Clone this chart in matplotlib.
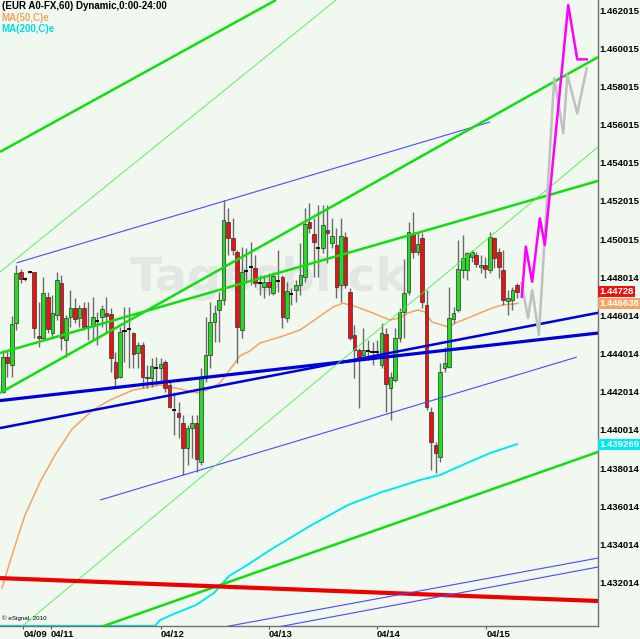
import matplotlib
matplotlib.use("Agg")
import matplotlib.pyplot as plt
import matplotlib.transforms as mtransforms
import numpy as np

# EUR A0-FX hourly candles, 04/09 .. 04/15
opens = [1.44201, 1.44383, 1.44341, 1.44561, 1.44829, 1.44792, 1.44829, 1.44829, 1.44493, 1.44483,
         1.44698, 1.44511, 1.44603, 1.44771, 1.44472, 1.44593, 1.44640, 1.44588, 1.44640, 1.44541,
         1.44546, 1.44574, 1.44593, 1.44614, 1.44609, 1.44359, 1.44280, 1.44520, 1.44530, 1.44509,
         1.44403, 1.44446, 1.44280, 1.44275, 1.44327, 1.44324, 1.44359, 1.44237, 1.44106, 1.44089,
         1.44036, 1.43905, 1.44010, 1.44036, 1.43835, 1.44272, 1.44394, 1.44568, 1.44630, 1.44682,
         1.45089, 1.45005, 1.44932, 1.44525, 1.44836, 1.44853, 1.44851, 1.44770, 1.44752, 1.44778,
         1.44717, 1.44783, 1.44801, 1.44586, 1.44715, 1.44734, 1.44761, 1.44804, 1.45089, 1.45028,
         1.44957, 1.44953, 1.45049, 1.44979, 1.44970, 1.44761, 1.45014, 1.44725, 1.44499, 1.44420,
         1.44394, 1.44415, 1.44411, 1.44411, 1.44341, 1.44502, 1.44219, 1.44263, 1.44481, 1.44621,
         1.44725, 1.45026, 1.44935, 1.45005, 1.44656, 1.44097, 1.43922, 1.43861, 1.44324, 1.44332,
         1.44581, 1.44630, 1.44839, 1.44839, 1.44909, 1.44918, 1.44853, 1.44865, 1.44839, 1.45005,
         1.44935, 1.44839, 1.44678, 1.44682, 1.44761]
highs = [1.44420, 1.44416, 1.44598, 1.44865, 1.44844, 1.44802, 1.44834, 1.44830, 1.44673, 1.44803,
         1.44725, 1.44708, 1.44830, 1.44813, 1.44603, 1.44734, 1.44692, 1.44656, 1.44673, 1.44673,
         1.44699, 1.44621, 1.44656, 1.44699, 1.44640, 1.44411, 1.44542, 1.44647, 1.44647, 1.44516,
         1.44463, 1.44463, 1.44341, 1.44377, 1.44385, 1.44377, 1.44368, 1.44254, 1.44202, 1.44149,
         1.44079, 1.44027, 1.44079, 1.44079, 1.44324, 1.44594, 1.44673, 1.44656, 1.44725, 1.45206,
         1.45163, 1.45110, 1.44944, 1.44961, 1.44953, 1.44987, 1.44918, 1.44813, 1.44813, 1.44822,
         1.44830, 1.44944, 1.44813, 1.44778, 1.44743, 1.44787, 1.44979, 1.45163, 1.45189, 1.45112,
         1.45180, 1.45180, 1.45180, 1.45110, 1.45058, 1.45110, 1.45040, 1.44743, 1.44551, 1.44429,
         1.44534, 1.44472, 1.44463, 1.44472, 1.44560, 1.44534, 1.44306, 1.44534, 1.44639, 1.44899,
         1.45092, 1.45145, 1.45040, 1.45032, 1.44734, 1.44123, 1.43940, 1.44350, 1.44437, 1.44752,
         1.44647, 1.44996, 1.45022, 1.44935, 1.44944, 1.44935, 1.44918, 1.44909, 1.45040, 1.45014,
         1.44953, 1.44944, 1.44734, 1.44752, 1.44770]
lows = [1.44195, 1.44280, 1.44279, 1.44525, 1.44771, 1.44782, 1.44823, 1.44483, 1.44437, 1.44472,
        1.44511, 1.44483, 1.44577, 1.44420, 1.44385, 1.44541, 1.44561, 1.44541, 1.44525, 1.44472,
        1.44472, 1.44446, 1.44542, 1.44509, 1.44306, 1.44221, 1.44272, 1.44359, 1.44326, 1.44324,
        1.44326, 1.44219, 1.44221, 1.44228, 1.44237, 1.44254, 1.44202, 1.44115, 1.43975, 1.43957,
        1.43765, 1.43816, 1.43853, 1.43782, 1.43816, 1.44254, 1.44324, 1.44463, 1.44463, 1.44656,
        1.44918, 1.44918, 1.44350, 1.44481, 1.44770, 1.44761, 1.44752, 1.44708, 1.44691, 1.44708,
        1.44708, 1.44725, 1.44534, 1.44568, 1.44656, 1.44673, 1.44708, 1.44778, 1.45032, 1.44804,
        1.44804, 1.44927, 1.44876, 1.44953, 1.44691, 1.44673, 1.44743, 1.44472, 1.44272, 1.44115,
        1.44377, 1.44368, 1.44341, 1.44385, 1.44324, 1.44097, 1.44053, 1.44254, 1.44463, 1.44481,
        1.44708, 1.44900, 1.44918, 1.44639, 1.44106, 1.43791, 1.43775, 1.43835, 1.44305, 1.44324,
        1.44560, 1.44621, 1.44796, 1.44787, 1.44883, 1.44856, 1.44822, 1.44796, 1.44822, 1.44848,
        1.44796, 1.44656, 1.44603, 1.44630, 1.44691]
closes = [1.44385, 1.44352, 1.44556, 1.44823, 1.44792, 1.44792, 1.44829, 1.44535, 1.44483, 1.44719,
          1.44530, 1.44615, 1.44787, 1.44483, 1.44588, 1.44640, 1.44582, 1.44640, 1.44541, 1.44541,
          1.44594, 1.44574, 1.44635, 1.44598, 1.44378, 1.44273, 1.44516, 1.44520, 1.44530, 1.44397,
          1.44446, 1.44280, 1.44273, 1.44338, 1.44327, 1.44345, 1.44219, 1.44123, 1.44106, 1.44071,
          1.43905, 1.44010, 1.44036, 1.43851, 1.44272, 1.44394, 1.44568, 1.44612, 1.44682, 1.45101,
          1.45005, 1.44944, 1.44542, 1.44827, 1.44836, 1.44853, 1.44770, 1.44770, 1.44778, 1.44752,
          1.44808, 1.44783, 1.44594, 1.44731, 1.44715, 1.44761, 1.44813, 1.45079, 1.45058, 1.44987,
          1.44957, 1.45075, 1.45032, 1.45019, 1.44752, 1.45019, 1.44761, 1.44481, 1.44420, 1.44385,
          1.44420, 1.44415, 1.44411, 1.44411, 1.44508, 1.44240, 1.44280, 1.44481, 1.44618, 1.44717,
          1.45040, 1.44935, 1.44974, 1.44673, 1.44123, 1.43940, 1.43879, 1.44306, 1.44353, 1.44586,
          1.44615, 1.44843, 1.44900, 1.44927, 1.44934, 1.44871, 1.44865, 1.44843, 1.45014, 1.44900,
          1.44853, 1.44682, 1.44691, 1.44734, 1.44725]

# moving averages (bar index, price)
ma50_x = [-0.16, 2.06, 4.94, 8.27, 11.6, 15.37, 20.02, 23.79, 28.89, 34.88, 39.31, 43.08, 45.3,
          48.18, 52.62, 54.84, 57.05, 61.49, 65.92, 68.14, 73.24, 75.46, 78.56, 82.11, 85.88, 88.1,
          89.87, 92.09, 93.64, 95.19, 97.41, 98.74, 100.96, 104.73, 108.5, 110.71, 114.26]
ma50_y = [1.43173, 1.43346, 1.43555, 1.43728, 1.43870, 1.44006, 1.44106, 1.44158, 1.44210, 1.44237,
          1.44216, 1.44195, 1.44210, 1.44247, 1.44389, 1.44415, 1.44457, 1.44488, 1.44525, 1.44561,
          1.44645, 1.44666, 1.44645, 1.44614, 1.44577, 1.44588, 1.44614, 1.44630, 1.44619, 1.44567,
          1.44551, 1.44541, 1.44567, 1.44603, 1.44640, 1.44656, 1.44664]
ma200_x = [-0.6, 33.77, 34.88, 37.32, 42.86, 46.85, 50.18, 54.61, 59.27, 63.7, 68.14, 72.57, 76.56,
           84.1, 86.98, 92.53, 96.96, 102.95, 108.05, 114.04]
ma200_y = [1.42975, 1.42975, 1.43005, 1.43031, 1.43084, 1.43147, 1.43236, 1.43299, 1.43372, 1.43435,
           1.43498, 1.43556, 1.43608, 1.43676, 1.43697, 1.43739, 1.43765, 1.43828, 1.43880, 1.43927]

# projected paths
proj_pink_x = [115.1, 116.0, 117.4, 119.1, 120.2, 125.4, 127.4, 129.5]
proj_pink_y = [1.44699, 1.44962, 1.44778, 1.45110, 1.44970, 1.46228, 1.45943, 1.45943]
proj_gray_x = [115.0, 116.5, 117.4, 118.9, 122.3, 124.3, 125.2, 127.4, 129.5]
proj_gray_y = [1.44771, 1.44588, 1.44734, 1.44499, 1.45844, 1.45556, 1.45861, 1.45660, 1.45896]

# trend lines: (x0, y0, x1, y1, color, width)
trendlines = [
    (-0.6, 1.45458, 60.6, 1.46254, "#11dd11", 1.8),
    (-0.6, 1.44829, 73.9, 1.46254, "#44ee44", 0.6),
    (3.1, 1.44877, 108.1, 1.45615, "#4a4aff", 0.8),
    (21.6, 1.43634, 127.3, 1.44383, "#4a4aff", 0.8),
    (-0.6, 1.44011, 132.0, 1.44615, "#0000dd", 1.8),
    (-0.6, 1.44155, 132.0, 1.44509, "#0000dd", 2.3),
    (-0.6, 1.44404, 132.0, 1.45306, "#11dd11", 1.8),
    (-0.6, 1.44195, 132.0, 1.45955, "#11dd11", 1.8),
    (3.8, 1.42963, 132.0, 1.45484, "#44ee44", 0.6),
    (21.1, 1.42963, 132.0, 1.43886, "#11dd11", 1.8),
    (-0.6, 1.43225, 132.0, 1.43105, "#ee0000", 3.0),
    (47.7, 1.42963, 132.0, 1.43330, "#4a4aff", 0.8),
    (59.7, 1.42963, 132.0, 1.43283, "#4a4aff", 0.8),
]

ytick_vals = [1.462015, 1.460015, 1.458015, 1.456015, 1.454015, 1.452015, 1.450015, 1.448014,
              1.446014, 1.444014, 1.442014, 1.440014, 1.438014, 1.436014, 1.434014, 1.432014]
date_pos = [4.6, 10.6, 35.1, 59.0, 83.0, 107.2]
date_labels = ["04/09", "04/11", "04/12", "04/13", "04/14", "04/15"]

bg = "#f1f8f0"
fnt = "Liberation Sans"
fig = plt.figure(figsize=(6.4, 6.39), dpi=100)
fig.patch.set_facecolor(bg)
ax = fig.add_axes([0, 13 / 639, 598 / 640, 626 / 639])
ax.set_facecolor(bg)

ax.text(0.45, 0.555, "Tagesblick", transform=ax.transAxes, fontsize=34, fontweight="bold",
        color="#e2e8e1", ha="center", va="center", zorder=0, family="DejaVu Sans")

# moving averages under the bars
ax.plot(ma50_x, ma50_y, color="#f4a460", lw=1.1, zorder=2)
ax.plot(ma200_x, ma200_y, color="#00e8f0", lw=1.4, zorder=2)

o = np.array(opens)
h = np.array(highs)
l = np.array(lows)
c = np.array(closes)
x = np.arange(len(o))
up = c > o
dn = c < o
fl = c == o
ax.vlines(x, l, h, color="#6a6a6a", lw=1.0, zorder=3)
ax.bar(x[up], c[up] - o[up], bottom=o[up], width=0.8, color="#22dd22",
       edgecolor="#303030", linewidth=0.5, zorder=4)
ax.bar(x[dn], o[dn] - c[dn], bottom=c[dn], width=0.8, color="#ee1111",
       edgecolor="#303030", linewidth=0.5, zorder=4)
ax.hlines(o[fl], x[fl] - 0.45, x[fl] + 0.45, color="#111111", lw=1.4, zorder=4)

for x0, y0, x1, y1, col, w in trendlines:
    ax.plot([x0, x1], [y0, y1], color=col, lw=w, zorder=5, solid_capstyle="butt")

ax.plot(proj_gray_x, proj_gray_y, color="#c0c0c0", lw=1.8, zorder=6)
ax.plot(proj_pink_x, proj_pink_y, color="#ff00ff", lw=1.8, zorder=7)

ax.set_xlim(-0.6, 132.0)
ax.set_ylim(1.42974, 1.46254)

ax.yaxis.tick_right()
ax.set_yticks(ytick_vals)
ax.set_yticklabels(["%.6f" % v for v in ytick_vals], fontsize=6.8, fontweight="bold", family=fnt)
ax.tick_params(axis="y", length=0, pad=1)
ax.set_xticks(date_pos)
ax.set_xticklabels(date_labels, fontsize=6.8, fontweight="bold", family=fnt, ha="left")
ax.tick_params(axis="x", length=2, pad=1, color="#555555")

for s in ["left", "top"]:
    ax.spines[s].set_visible(False)
for s in ["right", "bottom"]:
    ax.spines[s].set_color("#707070")
    ax.spines[s].set_linewidth(1.0)

# last value tags on the price scale
tr = mtransforms.blended_transform_factory(ax.transAxes, ax.transData)
for val, txt, col in [(1.44728, "1.44728", "#ee1111"), (1.446638, "1.446638", "#f4a460"),
                      (1.439269, "1.439269", "#00e8f0")]:
    ax.text(1.002, val, txt, transform=tr, fontsize=6.8, fontweight="bold", family=fnt,
            color="white", va="center", ha="left", zorder=10, clip_on=False,
            bbox=dict(boxstyle="square,pad=0.1", fc=col, ec="none"))

ax.text(0.003, 0.998, "(EUR A0-FX,60) Dynamic,0:00-24:00", transform=ax.transAxes, fontsize=7,
        fontweight="bold", family=fnt, va="top", ha="left", zorder=10)
ax.text(0.003, 0.98, "MA(50,C)e", transform=ax.transAxes, fontsize=7, fontweight="bold",
        color="#f4a460", family=fnt, va="top", ha="left", zorder=10)
ax.text(0.003, 0.962, "MA(200,C)e", transform=ax.transAxes, fontsize=7, fontweight="bold",
        color="#00dde8", family=fnt, va="top", ha="left", zorder=10)
ax.text(0.004, 0.008, "\u00a9 eSignal, 2010", transform=ax.transAxes, fontsize=4.5,
        family=fnt, va="bottom", ha="left", zorder=10)

fig.savefig("out.png", dpi=100, facecolor=bg)
